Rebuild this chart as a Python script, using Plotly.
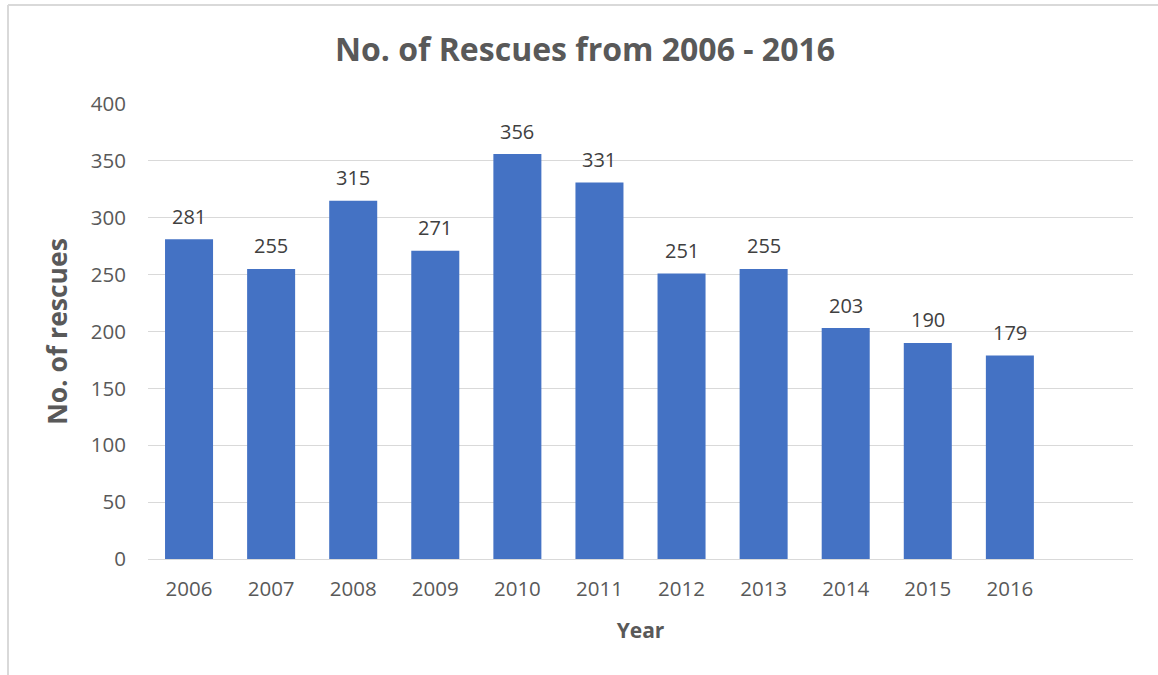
import plotly.graph_objects as go

years = ["2006", "2007", "2008", "2009", "2010", "2011", "2012", "2013", "2014", "2015", "2016"]
rescues = [281, 255, 315, 271, 356, 331, 251, 255, 203, 190, 179]
y_ticks = [0, 50, 100, 150, 200, 250, 300, 350, 400]

W, H = 1158, 675
L, R, T, B = 148, 25, 104, 116
pw, ph = W - L - R, H - T - B

def px_x(p):
    return (p - L) / pw

def px_y(p):
    return (H - B - p) / ph

xpos = list(range(len(years)))

fig = go.Figure()
fig.add_trace(go.Bar(
    x=xpos, y=rescues, width=0.585,
    marker=dict(color="#4472C4", line=dict(width=0)),
    hoverinfo="skip",
))

for x, v in zip(xpos, rescues):
    fig.add_annotation(x=x, y=v, text=str(v), showarrow=False, yshift=23,
                       font=dict(family="Open Sans", size=20, color="#404040"))

# chart frame (top and left edges visible)
fig.add_shape(type="line", xref="paper", yref="paper", x0=px_x(8), x1=px_x(1158), y0=px_y(5), y1=px_y(5),
              line=dict(color="#d9d9d9", width=2))
fig.add_shape(type="line", xref="paper", yref="paper", x0=px_x(8), x1=px_x(8), y0=px_y(5), y1=px_y(675),
              line=dict(color="#d9d9d9", width=2))

fig.update_layout(
    width=W, height=H,
    margin=dict(l=L, r=R, t=T, b=B),
    paper_bgcolor="white", plot_bgcolor="white",
    showlegend=False,
    title=dict(text="<b>No. of Rescues from 2006 - 2016</b>", x=585 / W, xanchor="center",
               y=1 - 50 / H, yanchor="middle",
               font=dict(family="Open Sans", size=32, color="#595959")),
    xaxis=dict(
        range=[-0.5, 11.5], tickmode="array", tickvals=xpos, ticktext=years,
        showgrid=False, zeroline=False, showline=True, linecolor="#d9d9d9", linewidth=1,
        ticks="", ticklabelstandoff=11,
        tickfont=dict(family="Open Sans", size=20.5, color="#595959"),
        title=dict(text="<b>Year</b>", standoff=22, font=dict(family="Open Sans", size=21, color="#595959")),
        fixedrange=True,
    ),
    yaxis=dict(
        range=[0, 400], tickmode="array", tickvals=y_ticks,
        showgrid=True, gridcolor="#d9d9d9", gridwidth=1, zeroline=False, showline=False,
        ticks="", ticklabelstandoff=21,
        tickfont=dict(family="Open Sans", size=20.5, color="#595959"),
        title=dict(text="<b>No. of rescues</b>", standoff=15, font=dict(family="Open Sans", size=26.5, color="#595959")),
        fixedrange=True,
    ),
)

fig.write_html("out.html", config={"displayModeBar": False},
               post_script="document.body.style.margin='0';")
